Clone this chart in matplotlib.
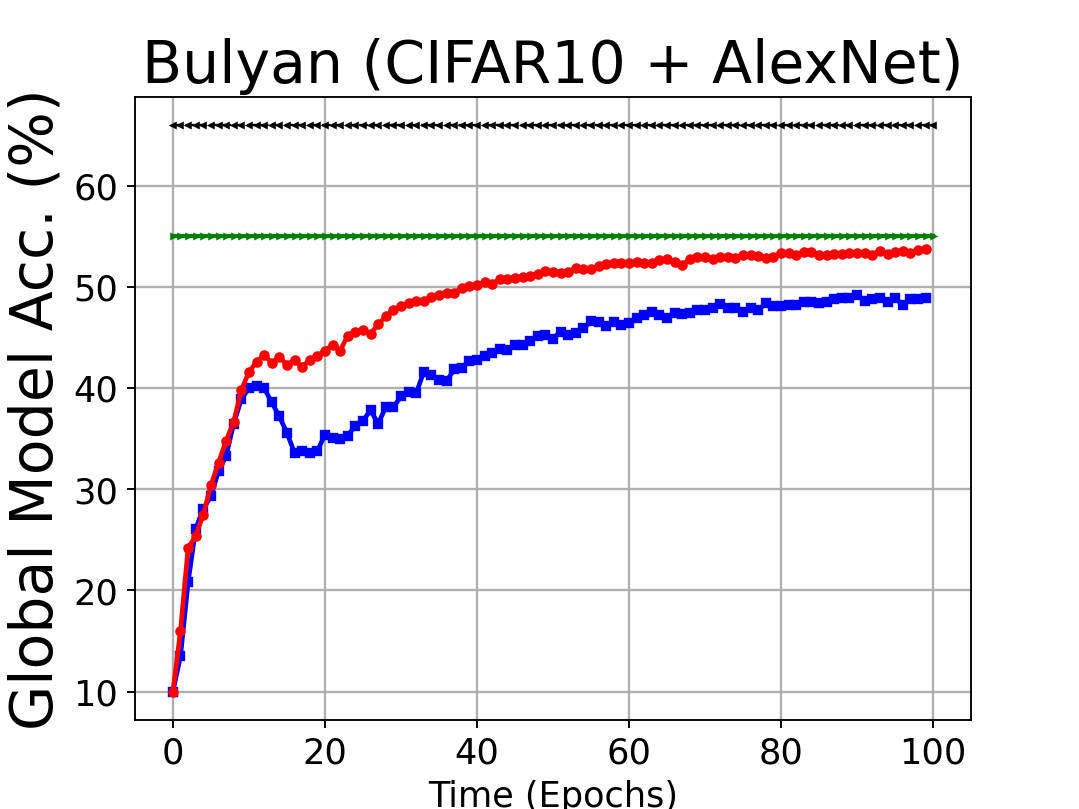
import numpy as np
import matplotlib
matplotlib.use("Agg")
import matplotlib.pyplot as plt

# Bulyan defence, CIFAR10 + AlexNet; accuracy per epoch
epochs = list(range(100))
epochs_ref = list(range(101))

acc_blue = [10.0, 13.5, 20.8, 26.1, 28.1, 29.3, 31.8, 33.3, 36.5, 38.9,
            40.0, 40.2, 40.0, 38.6, 37.2, 35.6, 33.6, 33.8, 33.6, 33.8,
            35.4, 35.05, 35.0, 35.3, 36.3, 36.8, 37.8, 36.5, 38.1, 38.1,
            39.2, 39.6, 39.5, 41.6, 41.35, 40.85, 40.7, 41.85, 42.0, 42.7,
            42.8, 43.2, 43.5, 43.9, 43.8, 44.3, 44.3, 44.65, 45.15, 45.3,
            44.9, 45.6, 45.3, 45.5, 45.9, 46.6, 46.5, 46.1, 46.5, 46.2,
            46.4, 46.9, 47.2, 47.5, 47.2, 46.9, 47.4, 47.3, 47.4, 47.7,
            47.7, 47.95, 48.3, 47.95, 47.95, 47.5, 47.95, 47.7, 48.4, 48.1,
            48.1, 48.2, 48.2, 48.5, 48.5, 48.4, 48.5, 48.8, 48.95, 48.95,
            49.2, 48.6, 48.85, 48.95, 48.5, 48.95, 48.2, 48.8, 48.8, 48.9]

acc_red = [10.0, 16.0, 24.2, 25.4, 27.5, 30.4, 32.65, 34.8, 36.7, 39.8,
           41.6, 42.6, 43.3, 42.5, 43.1, 42.3, 42.8, 42.1, 42.8, 43.2,
           43.7, 44.3, 43.7, 45.2, 45.6, 45.8, 45.4, 46.3, 47.1, 47.75,
           48.1, 48.4, 48.6, 48.6, 49.05, 49.2, 49.4, 49.4, 49.95, 50.1,
           50.2, 50.45, 50.3, 50.8, 50.8, 50.85, 50.95, 51.1, 51.3, 51.6,
           51.5, 51.35, 51.5, 51.9, 51.8, 51.8, 52.1, 52.3, 52.4, 52.4,
           52.4, 52.5, 52.4, 52.4, 52.7, 52.75, 52.5, 52.15, 52.8, 53.0,
           53.0, 52.8, 53.0, 53.0, 52.9, 53.2, 53.2, 53.1, 52.9, 53.0,
           53.4, 53.4, 53.2, 53.5, 53.5, 53.2, 53.2, 53.3, 53.3, 53.4,
           53.4, 53.4, 53.2, 53.6, 53.3, 53.5, 53.6, 53.4, 53.65, 53.8]

acc_green = [55.0] * 101
acc_black = [66.0] * 101

fig = plt.figure(figsize=(6.4, 4.8), dpi=168.6)
ax = fig.add_subplot(111)

ax.plot(epochs_ref, acc_black, '--', marker='<', color='k', linewidth=1, markersize=1.8)
ax.plot(epochs_ref, acc_green, '-', marker='>', color='green', linewidth=1.8, markersize=1.8)
ax.plot(epochs, acc_blue, '-', marker='s', color='blue', linewidth=2, markersize=3.5)
ax.plot(epochs, acc_red, '-', marker='o', color='red', linewidth=2, markersize=3.5)

ax.set_title("Bulyan (CIFAR10 + AlexNet)", fontsize=25)
ax.set_xlabel("Time (Epochs)", fontsize=15)
ax.set_ylabel("Global Model Acc. (%)", fontsize=25)
ax.tick_params(labelsize=15)
ax.set_xticks([0, 20, 40, 60, 80, 100])
ax.set_yticks([10, 20, 30, 40, 50, 60])
ax.grid(linewidth=1)

fig.savefig("out.png", dpi=168.6)
